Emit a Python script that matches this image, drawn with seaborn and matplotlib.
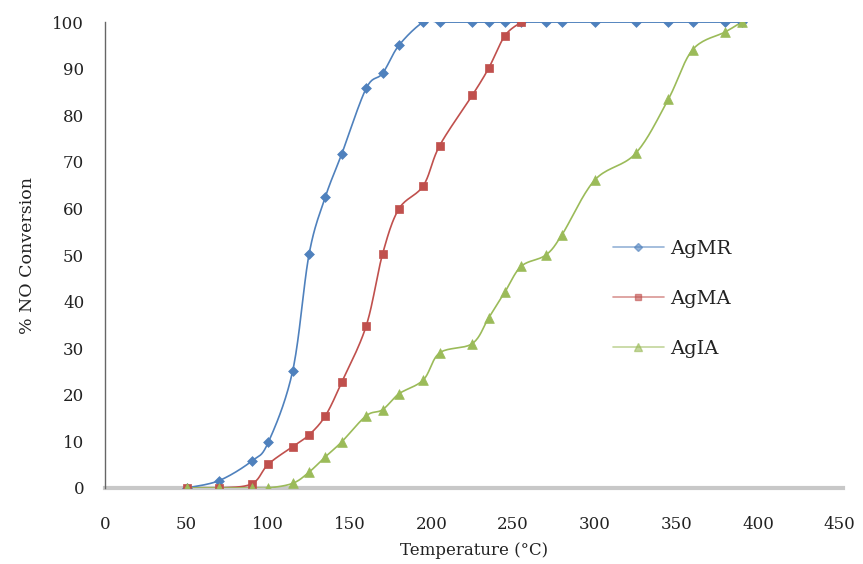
import numpy as np
import pandas as pd
import matplotlib
matplotlib.use("Agg")
import matplotlib.pyplot as plt
import seaborn as sns
from matplotlib.lines import Line2D

# ---- data ----
mr_x = [50, 70, 90, 100, 115, 125, 135, 145, 160, 170, 180, 195, 205, 225, 235, 245, 255,
        270, 280, 300, 325, 345, 360, 380, 390]
mr_y = [0, 1.6, 5.8, 9.8, 25.2, 50.2, 62.5, 71.7, 85.8, 89, 95, 100, 100, 100, 100, 100, 100,
        100, 100, 100, 100, 100, 100, 100, 100]

ma_x = [50, 70, 90, 100, 115, 125, 135, 145, 160, 170, 180, 195, 205, 225, 235, 245, 255]
ma_y = [0, 0, 0.9, 5.1, 8.9, 11.4, 15.5, 22.7, 34.8, 50.2, 59.9, 64.9, 73.5, 84.3, 90.1, 97.1, 100]

ia_x = [50, 70, 90, 100, 115, 125, 135, 145, 160, 170, 180, 195, 205, 225, 235, 245, 255,
        270, 280, 300, 325, 345, 360, 380, 390]
ia_y = [0, 0, 0, 0, 1.0, 3.4, 6.7, 9.9, 15.5, 16.8, 20.2, 23.2, 29.0, 31.0, 36.5, 42.1, 47.6,
        50.0, 54.4, 66.1, 71.8, 83.4, 94.1, 97.9, 100]

series_names = ["AgMR", "AgMA", "AgIA"]
colors = ["#4F81BD", "#C0504D", "#9BBB59"]
markers = ["D", "s", "^"]
msizes = [5, 6, 7]
x_ticks = list(range(0, 451, 50))
y_ticks = list(range(0, 101, 10))


def smooth(xs, ys, n=20):
    """Excel-like smoothing: cubic Bezier with Catmull-Rom control points."""
    P = np.column_stack([xs, ys]).astype(float)
    out = []
    t = np.linspace(0, 1, n)[:, None]
    for i in range(len(P) - 1):
        p0 = P[i - 1] if i > 0 else P[i]
        p1 = P[i]
        p2 = P[i + 1]
        p3 = P[i + 2] if i + 2 < len(P) else P[i + 1]
        c1 = p1 + (p2 - p0) / 6.0
        c2 = p2 - (p3 - p1) / 6.0
        seg = ((1 - t) ** 3) * p1 + 3 * ((1 - t) ** 2) * t * c1 + 3 * (1 - t) * t ** 2 * c2 + t ** 3 * p2
        out.append(seg if i == 0 else seg[1:])
    S = np.vstack(out)
    return S[:, 0], S[:, 1]


sns.set_theme(style="white")
plt.rcParams["font.family"] = ["DejaVu Serif", "Liberation Serif"]

fig = plt.figure(figsize=(8.63, 5.64), dpi=100)
ax = fig.add_axes([0.1217, 0.1348, 0.855, 0.826])

data = [(mr_x, mr_y), (ma_x, ma_y), (ia_x, ia_y)]
handles = []
for (xs, ys), name, c, m, ms in zip(data, series_names, colors, markers, msizes):
    sx, sy = smooth(xs, ys)
    df_s = pd.DataFrame({"x": sx, "y": sy})
    sns.lineplot(data=df_s, x="x", y="y", sort=False, estimator=None, ax=ax,
                 color=c, linewidth=1.2, zorder=2)
    df_p = pd.DataFrame({"x": xs, "y": ys})
    sns.scatterplot(data=df_p, x="x", y="y", ax=ax, marker=m, s=ms ** 2 * 1.0,
                    color=c, edgecolor=c, linewidth=0.5, zorder=3)
    handles.append(Line2D([0], [0], color=c, linewidth=1.2, alpha=0.6,
                          marker=m, markersize=ms * 0.8, markerfacecolor=c,
                          markeredgecolor=c, label=name))

ax.set_xlim(0, 452)
ax.set_ylim(0, 100)
ax.set_xticks(x_ticks)
ax.set_yticks(y_ticks)
ax.set_xlabel("Temperature (°C)", fontsize=12, labelpad=7, color="#222222")
ax.set_ylabel("% NO Conversion", fontsize=12.5, labelpad=12, color="#222222")
ax.tick_params(axis="both", labelsize=12, colors="#222222")
ax.tick_params(axis="x", direction="out", length=6, width=1, color="#999999", pad=14)
ax.tick_params(axis="y", direction="out", length=5, width=1, color="#555555", pad=10)

for s in ["top", "right"]:
    ax.spines[s].set_visible(False)
ax.spines["left"].set_color("#666666")
ax.spines["left"].set_linewidth(1.0)
ax.spines["bottom"].set_color("#C8C8C8")
ax.spines["bottom"].set_linewidth(3)
ax.spines["bottom"].set_zorder(1)
ax.grid(False)

leg = ax.legend(handles=handles, loc="upper left", bbox_to_anchor=(0.665, 0.57),
                frameon=False, fontsize=14, labelspacing=1.65, handlelength=2.6,
                handletextpad=0.35, labelcolor="#222222")

fig.savefig("out.png", dpi=100)
